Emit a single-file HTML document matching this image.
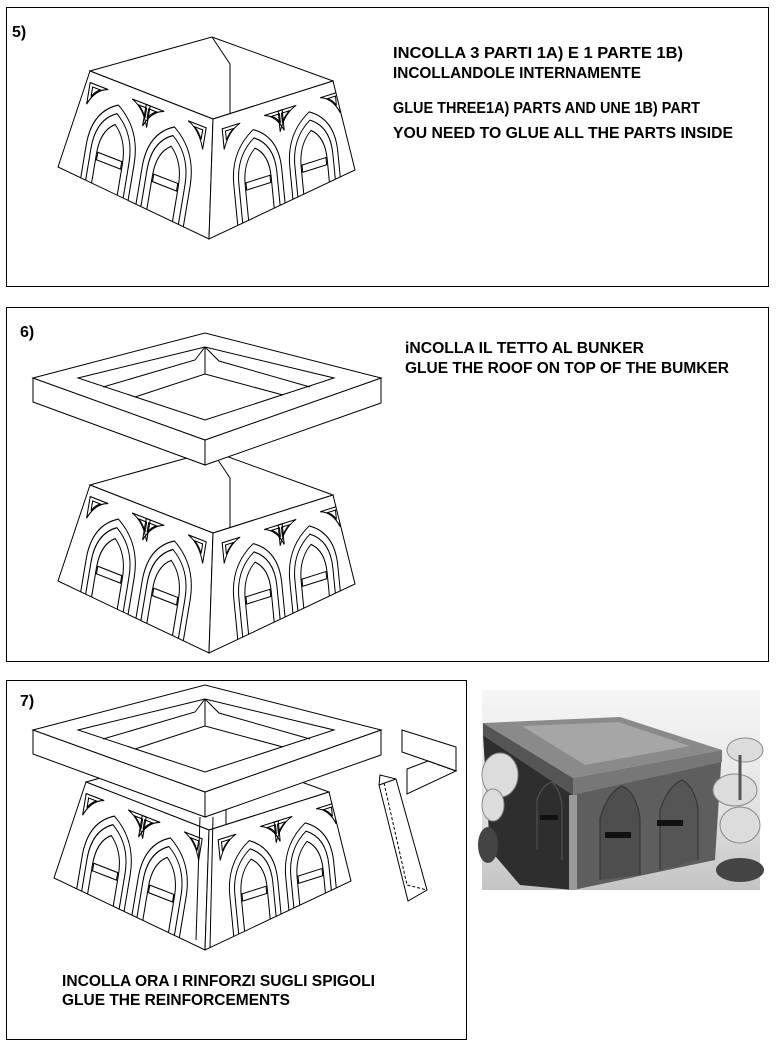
<!DOCTYPE html>
<html><head><meta charset="utf-8"><style>
html,body{margin:0;padding:0;background:#fff;}
svg{display:block;}
text{font-family:"Liberation Sans Narrow","Liberation Sans",sans-serif;font-weight:bold;font-size:16px;fill:#000;}
</style></head><body>
<svg width="776" height="1047" viewBox="0 0 776 1047" xmlns="http://www.w3.org/2000/svg">
<defs>
<clipPath id="cl"><polygon points="90,71 213,119 209,239 58,167"/></clipPath>
<clipPath id="cr"><polygon points="213,119 333,81 355,170 209,239"/></clipPath>
<g id="arch" fill="none" stroke="#000" stroke-width="1">
  <path d="M0,110 L0,48 Q0,16 24,2 Q48,16 48,48 L48,110"/>
  <path d="M5,110 L5,49 Q5,22 24,10 Q43,22 43,49 L43,110"/>
  <path d="M11,110 L11,52 Q11,30 24,20 Q37,30 37,52 L37,110"/>
  <rect x="12" y="50" width="24" height="7"/>
  <path d="M-6,-8 L12,-8 Q0,-4 -6,12 Z"/>
  <path d="M-3,-5 L5,-5 Q0,-2 -3,4 Z"/>
  <path d="M36,-8 L54,-8 L54,12 Q48,-4 36,-8 Z"/>
  <path d="M43,-5 L51,-5 L51,4 Q48,-2 43,-5 Z"/>
</g>
<g id="bunker" fill="#fff" stroke="#000" stroke-width="1">
  <polygon points="90,71 212,37 333,81 213,119"/>
  <polyline points="212,37 230,64 230,113" fill="none"/>
  <polygon points="90,71 213,119 209,239 58,167"/>
  <polygon points="213,119 333,81 355,170 209,239"/>
  <g clip-path="url(#cl)">
  <g transform="matrix(1,0.39,-0.18,1.08,90,71)">
    <use href="#arch" transform="translate(8,18)"/>
    <use href="#arch" transform="translate(64,18)"/>
  </g></g>
  <g clip-path="url(#cr)">
  <g transform="matrix(1,-0.317,0.1,1.03,213,119)">
    <use href="#arch" transform="translate(14,20)"/>
    <use href="#arch" transform="translate(70,20)"/>
  </g></g>
</g>
<g id="roof" fill="#fff" stroke="#000" stroke-width="1">
  <polygon points="33,378 205,440 205,465 33,402"/>
  <polygon points="205,440 381,378 381,403 205,465"/>
  <polygon points="33,378 205,333 381,378 205,440"/>
  <polygon points="78,378 205,347 334,378 205,420"/>
  <polyline points="135,397 205,374 283,395" fill="none"/>
  <line x1="205" y1="347" x2="205" y2="374"/>
  <polyline points="103,387 195,360 205,347 219,361 310,387" fill="none"/>
</g>
<linearGradient id="bg" x1="0" y1="0" x2="0" y2="1">
  <stop offset="0" stop-color="#f6f6f6"/><stop offset="0.55" stop-color="#e4e4e4"/><stop offset="1" stop-color="#c4c4c4"/>
</linearGradient>
</defs>

<!-- Panel 5 -->
<rect x="6.5" y="7.5" width="762" height="279" fill="none" stroke="#000"/>
<text x="12" y="37">5)</text>
<use href="#bunker"/>
<text x="393" y="58" textLength="290" lengthAdjust="spacingAndGlyphs">INCOLLA 3 PARTI 1A) E 1 PARTE 1B)</text>
<text x="393" y="78" textLength="248" lengthAdjust="spacingAndGlyphs">INCOLLANDOLE INTERNAMENTE</text>
<text x="393" y="113" textLength="307" lengthAdjust="spacingAndGlyphs">GLUE THREE1A) PARTS AND UNE 1B) PART</text>
<text x="393" y="138" textLength="340" lengthAdjust="spacingAndGlyphs">YOU NEED TO GLUE ALL THE PARTS INSIDE</text>

<!-- Panel 6 -->
<rect x="6.5" y="307.5" width="762" height="354" fill="none" stroke="#000"/>
<text x="20" y="337">6)</text>
<use href="#bunker" transform="translate(0,414)"/>
<use href="#roof"/>
<text x="405" y="353" textLength="239" lengthAdjust="spacingAndGlyphs">iNCOLLA IL TETTO AL BUNKER</text>
<text x="405" y="373" textLength="324" lengthAdjust="spacingAndGlyphs">GLUE THE ROOF ON TOP OF THE BUMKER</text>

<!-- Panel 7 -->
<rect x="6.5" y="680.5" width="460" height="359" fill="none" stroke="#000"/>
<text x="20" y="706">7)</text>
<use href="#bunker" transform="translate(-4,711)"/>
<g fill="none" stroke="#000">
  <line x1="200" y1="817" x2="196" y2="940"/>
  <line x1="213" y1="817" x2="210" y2="948"/>
  <line x1="159" y1="776" x2="159" y2="800"/>
  <line x1="246" y1="776" x2="246" y2="800"/>
</g>
<use href="#roof" transform="translate(0,352)"/>
<g fill="#fff" stroke="#000">
  <polygon points="402,730 456,747 456,771 428,761 402,752"/>
  <polygon points="407,769 428,761 456,771 407,794"/>
  <line x1="428" y1="761" x2="456" y2="771" stroke-dasharray="3,2"/>
  <polygon points="380,775 396,779 427,890 408,901 379,785"/>
  <line x1="379" y1="785" x2="396" y2="779"/>
  <polyline points="384,783 407,885 427,890" fill="none" stroke-dasharray="3,2"/>
</g>
<text x="62" y="986" textLength="313" lengthAdjust="spacingAndGlyphs">INCOLLA ORA I RINFORZI SUGLI SPIGOLI</text>
<text x="62" y="1005" textLength="228" lengthAdjust="spacingAndGlyphs">GLUE THE REINFORCEMENTS</text>

<!-- Photo -->
<rect x="482" y="690" width="278" height="200" fill="url(#bg)"/>
<polygon points="483,735 573,795 573,890 520,885 490,850" fill="#2e2e2e"/>
<polygon points="573,795 722,750 715,860 573,890" fill="#5e5e5e"/>
<polygon points="483,723 620,717 722,750 573,778" fill="#8a8a8a"/>
<polygon points="522,726 618,722 690,746 585,765" fill="#a6a6a6"/>
<polygon points="483,723 573,778 573,795 483,735" fill="#555"/>
<polygon points="573,778 722,750 722,762 573,795" fill="#777"/>
<rect x="569" y="795" width="8" height="95" fill="#9a9a9a"/>
<path d="M600,880 L600,818 Q608,792 622,786 Q636,792 640,818 L640,875" fill="#4e4e4e" stroke="#333"/>
<path d="M660,870 L660,810 Q668,786 682,780 Q694,786 698,808 L698,860" fill="#555" stroke="#333"/>
<path d="M537,850 L537,800 Q542,785 552,782 Q560,790 562,805 L562,860" fill="none" stroke="#555"/>
<rect x="605" y="832" width="26" height="6" fill="#111"/>
<rect x="657" y="820" width="26" height="6" fill="#111"/>
<rect x="540" y="815" width="18" height="5" fill="#111"/>
<g fill="#dcdcdc" stroke="#888">
  <ellipse cx="500" cy="775" rx="18" ry="22"/>
  <ellipse cx="493" cy="805" rx="11" ry="16"/>
  <ellipse cx="745" cy="750" rx="18" ry="12"/>
  <ellipse cx="735" cy="790" rx="22" ry="16"/>
  <ellipse cx="740" cy="825" rx="20" ry="18"/>
</g>
<ellipse cx="488" cy="845" rx="10" ry="18" fill="#444"/>
<ellipse cx="740" cy="870" rx="24" ry="12" fill="#444"/>
<line x1="740" y1="755" x2="740" y2="800" stroke="#555" stroke-width="3"/>
</svg>
</body></html>
